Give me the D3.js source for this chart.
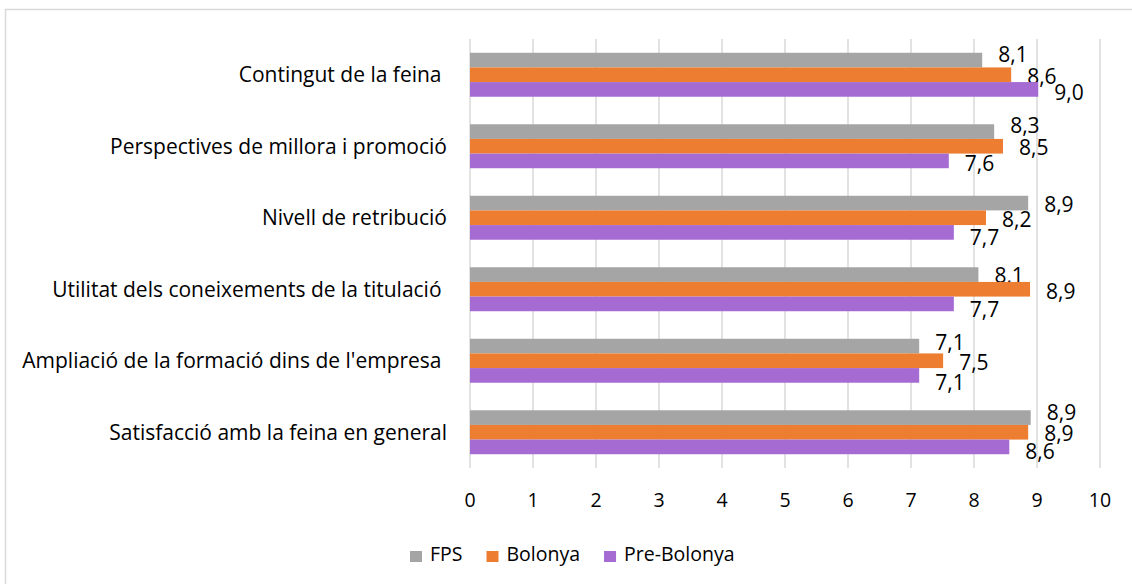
<!DOCTYPE html>
<html>
<head>
<meta charset="utf-8">
<script src="https://cdn.jsdelivr.net/npm/d3@7"></script>
<style>
  body { margin: 0; background: #fff; }
  text { font-family: "Open Sans", Lato, sans-serif; fill: #000; white-space: pre; }
</style>
</head>
<body>
<script>
'use strict';

var categories = [
  "Contingut de la feina ",
  "Perspectives de millora i promoció",
  "Nivell de retribució",
  "Utilitat dels coneixements de la titulació ",
  "Ampliació de la formació dins de l'empresa ",
  "Satisfacció amb la feina en general"
];
var seriesNames = ["FPS", "Bolonya", "Pre-Bolonya"];
var fps = [8.13, 8.32, 8.86, 8.07, 7.13, 8.9];
var bolonya = [8.59, 8.46, 8.19, 8.89, 7.51, 8.86];
var preBolonya = [9.02, 7.6, 7.68, 7.68, 7.13, 8.56];
var xTicks = [0, 1, 2, 3, 4, 5, 6, 7, 8, 9, 10];

// label vertical nudges (px) so they sit like the original, per series
var labelNudge = [
  [-5.5, -6, 1, 1, -4, -5],
  [1.5, 1.5, 2, 2, 2, 1],
  [3, 3, 5.5, 6, 7.5, 4.5]
];

var colors = ["#a5a5a5", "#ed7d31", "#a66bd3"];
var values = [fps, bolonya, preBolonya];

var W = 1132, H = 584;
var svg = d3.select("body").append("svg")
    .attr("width", W).attr("height", H);

// chart border (only top and left edges fall inside the picture)
svg.append("rect")
    .attr("x", 5.5).attr("y", 9.5)
    .attr("width", W + 20).attr("height", H + 20)
    .attr("fill", "none").attr("stroke", "#d9d9d9").attr("stroke-width", 1.5);

var x = d3.scaleLinear().domain([0, 10]).range([470, 1100]);
var y = d3.scaleBand().domain(categories).range([39, 468])
    .paddingInner(0.385).paddingOuter(0.1925);
var ys = d3.scaleBand().domain(seriesNames).range([0, y.bandwidth()]);

// gridlines
svg.append("g").selectAll("line").data(xTicks).enter().append("line")
    .attr("x1", function(d) { return x(d); })
    .attr("x2", function(d) { return x(d); })
    .attr("y1", 39).attr("y2", 468)
    .attr("stroke", "#d9d9d9").attr("stroke-width", 1.5);

// tick labels
svg.append("g").selectAll("text").data(xTicks).enter().append("text")
    .attr("x", function(d) { return x(d); })
    .attr("y", 507)
    .attr("text-anchor", "middle")
    .style("font-size", "19.5px")
    .text(function(d) { return d; });

// category labels
svg.append("g").selectAll("text").data(categories).enter().append("text")
    .attr("x", 447)
    .attr("y", function(d) { return y(d) + y.bandwidth() / 2; })
    .attr("dy", "0.36em")
    .attr("text-anchor", "end")
    .style("font-size", "21px")
    .text(function(d) { return d; });

// bars
var fmt = function(v) { return d3.format(".1f")(v).replace(".", ","); };
seriesNames.forEach(function(s, si) {
  var g = svg.append("g");
  var rows = categories.map(function(c, ci) {
    return {cat: c, v: values[si][ci], ci: ci};
  });
  g.selectAll("rect").data(rows).enter().append("rect")
      .attr("x", x(0))
      .attr("y", function(d) { return y(d.cat) + ys(s); })
      .attr("width", function(d) { return x(d.v) - x(0); })
      .attr("height", ys.bandwidth())
      .attr("fill", colors[si]);
  g.selectAll("text").data(rows).enter().append("text")
      .attr("x", function(d) { return x(d.v) + 16; })
      .attr("y", function(d) {
        return y(d.cat) + ys(s) + ys.bandwidth() / 2 + labelNudge[si][d.ci];
      })
      .attr("dy", "0.36em")
      .style("font-size", "21px")
      .text(function(d) { return fmt(d.v); });
});

// legend
var leg = svg.append("g");
var lx = 410;
seriesNames.forEach(function(s, si) {
  var item = leg.append("g").attr("transform", "translate(" + lx + ",0)");
  item.append("rect").attr("x", 0).attr("y", 551).attr("width", 12).attr("height", 11)
      .attr("fill", colors[si]);
  var t = item.append("text").attr("x", 20).attr("y", 561)
      .style("font-size", "19.5px").text(s);
  lx += 20 + t.node().getComputedTextLength() + 24;
});
</script>
</body>
</html>
